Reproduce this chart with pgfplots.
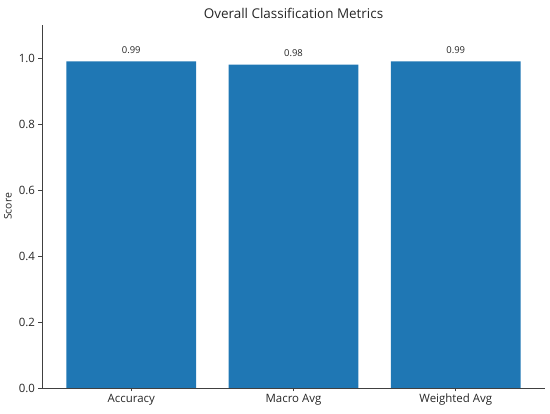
\documentclass[border=0pt]{standalone}
\usepackage{fontspec}
\setmainfont{Open Sans}
\usepackage{pgfplots}
\pgfplotsset{compat=1.18}
\definecolor{barblue}{HTML}{1F77B4}
\begin{document}
\begin{tikzpicture}
\useasboundingbox (-42bp,-26bp) rectangle (508bp,388bp);
\begin{axis}[
  scale only axis, width=503bp, height=363bp,
  xmin=-0.55, xmax=2.55, ymin=0, ymax=1.1,
  axis x line*=bottom, axis y line*=left,
  axis line style={black!75, line width=0.8bp},
  xtick={0,1,2}, xticklabels={Accuracy,Macro Avg,Weighted Avg},
  ytick={0,0.2,0.4,0.6,0.8,1.0},
  yticklabel style={/pgf/number format/.cd,fixed,fixed zerofill,precision=1},
  /pgf/number format/assume math mode=true,
  tick style={black!75, line width=0.8bp}, tick align=outside, major tick length=3.5bp,
  ticklabel style={font=\fontsize{11.5}{13}\selectfont, text=black!85},
  xticklabel style={yshift=1bp},
  ybar, bar width=0.8, bar shift=0pt,
  nodes near coords,
  nodes near coords style={font=\fontsize{9.5}{11}\selectfont, text=black!85, /pgf/number format/.cd, fixed, fixed zerofill, precision=2, /tikz/yshift=4bp},
  title={Overall Classification Metrics},
  title style={at={(axis description cs:0.5,1)}, anchor=base, yshift=1bp, font=\fontsize{13.5}{15}\selectfont, text=black!85},
  ylabel={Score},
  ylabel style={at={(axis description cs:-0.0676,0.5)}, anchor=center, font=\fontsize{10.5}{12}\selectfont, text=black!85},
]
\addplot[fill=barblue, draw=none] coordinates {(0,0.99) (1,0.98) (2,0.99)};
\end{axis}
\end{tikzpicture}
\end{document}
